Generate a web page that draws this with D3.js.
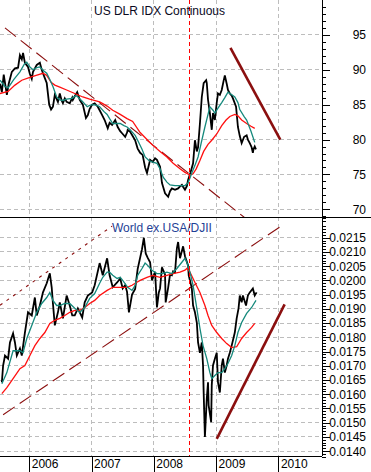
<!DOCTYPE html>
<html>
<head>
<meta charset="utf-8">
<script src="https://cdn.jsdelivr.net/npm/d3@7/dist/d3.min.js"></script>
<style>
  html, body { margin: 0; padding: 0; background: #fff; }
  svg { display: block; font-family: "Liberation Sans", Arial, sans-serif; }
</style>
</head>
<body>
<svg id="chart" width="371" height="472"></svg>
<script>
// ---------------- DATA ----------------
const yearTicks = [2006, 2007, 2008, 2009, 2010];
const topTicks = [70, 75, 80, 85, 90, 95];
const botTicks = [0.0140, 0.0145, 0.0150, 0.0155, 0.0160, 0.0165, 0.0170, 0.0175, 0.0180, 0.0185, 0.0190, 0.0195, 0.0200, 0.0205, 0.0210, 0.0215];
const topTitle = "US DLR IDX Continuous";
const botTitle = "World ex.USA/DJII";
const markerDate = 2008.57;

// US Dollar index (decimal year, value)
const usdDates = [2005.53,2005.56,2005.59,2005.64,2005.67,2005.72,2005.77,2005.82,2005.85,2005.88,2005.90,2005.93,2005.98,2006.01,2006.04,2006.06,2006.09,2006.12,2006.17,2006.20,2006.22,2006.25,2006.28,2006.32,2006.35,2006.38,2006.41,2006.44,2006.46,2006.49,2006.52,2006.54,2006.57,2006.60,2006.65,2006.69,2006.70,2006.73,2006.77,2006.80,2006.81,2006.86,2006.91,2006.94,2006.97,2007.01,2007.05,2007.10,2007.13,2007.17,2007.21,2007.26,2007.29,2007.33,2007.38,2007.42,2007.46,2007.49,2007.54,2007.57,2007.58,2007.62,2007.66,2007.70,2007.74,2007.78,2007.82,2007.86,2007.89,2007.94,2007.98,2008.02,2008.05,2008.10,2008.13,2008.15,2008.18,2008.23,2008.26,2008.29,2008.34,2008.39,2008.42,2008.45,2008.50,2008.53,2008.55,2008.59,2008.63,2008.66,2008.69,2008.71,2008.74,2008.77,2008.80,2008.84,2008.85,2008.87,2008.90,2008.93,2008.95,2008.98,2009.01,2009.03,2009.06,2009.09,2009.12,2009.14,2009.17,2009.19,2009.22,2009.25,2009.27,2009.32,2009.35,2009.38,2009.41,2009.45,2009.49,2009.51,2009.54,2009.57,2009.59,2009.60,2009.62,2009.64];
const usdClose = [88.0,86.8,89.3,86.4,88.0,89.7,90.2,90.3,92.1,91.5,92.4,91.0,90.4,89.4,88.7,89.7,90.2,90.7,91.0,90.0,89.5,88.8,88.1,85.0,84.3,84.7,86.4,85.8,85.4,86.6,85.6,85.2,85.9,85.4,85.2,86.0,85.7,86.2,86.8,86.0,85.7,85.0,83.1,83.5,84.4,85.0,85.2,84.7,84.2,83.5,82.8,81.6,82.4,82.1,82.8,81.8,81.2,80.9,80.4,81.0,81.4,81.1,80.5,79.9,78.7,78.1,77.8,76.0,75.2,77.1,76.8,77.3,77.1,76.1,73.8,73.2,72.3,71.8,72.6,73.0,72.8,73.0,73.3,73.5,72.8,73.3,74.2,75.3,76.6,79.9,78.3,78.9,82.3,86.1,88.1,88.5,88.1,85.7,83.8,81.4,83.8,82.8,85.3,86.6,86.4,87.1,88.4,89.2,88.0,87.1,86.6,86.3,85.9,84.7,81.8,80.5,79.5,80.4,80.6,80.0,79.5,78.9,78.1,78.6,79.0,78.6];

const usdFastDates = [2005.53,2005.61,2005.66,2005.75,2005.85,2005.92,2005.96,2006.01,2006.06,2006.12,2006.17,2006.24,2006.28,2006.33,2006.38,2006.44,2006.49,2006.54,2006.60,2006.69,2006.75,2006.78,2006.85,2006.93,2006.97,2007.02,2007.09,2007.13,2007.20,2007.25,2007.29,2007.34,2007.41,2007.46,2007.52,2007.57,2007.62,2007.65,2007.70,2007.74,2007.81,2007.86,2007.92,2007.97,2008.05,2008.10,2008.15,2008.21,2008.26,2008.34,2008.42,2008.50,2008.55,2008.61,2008.66,2008.71,2008.76,2008.82,2008.87,2008.90,2008.95,2008.98,2009.03,2009.09,2009.14,2009.19,2009.24,2009.30,2009.35,2009.38,2009.45,2009.49,2009.56,2009.62];
const usdFast = [88.5,87.6,87.4,88.6,89.7,90.8,91.1,90.4,90.0,90.3,90.4,89.8,89.5,88.6,87.6,86.1,85.7,85.6,85.8,85.9,86.3,86.1,85.5,84.7,84.9,85.0,84.9,84.7,84.0,83.6,83.0,82.3,82.3,82.3,82.0,81.8,81.4,81.1,80.6,79.9,78.6,77.5,77.0,76.8,76.6,75.8,74.6,73.9,73.5,73.4,73.4,73.4,73.8,75.2,76.3,77.5,79.5,81.8,83.6,84.7,84.2,83.8,84.5,85.3,86.0,86.8,86.5,86.1,85.3,84.3,83.3,82.8,81.2,79.6];

const usdSlowDates = [2005.53,2005.66,2005.77,2005.88,2006.01,2006.11,2006.22,2006.28,2006.35,2006.41,2006.49,2006.60,2006.73,2006.86,2006.97,2007.13,2007.25,2007.34,2007.46,2007.57,2007.66,2007.78,2007.89,2007.98,2008.10,2008.21,2008.31,2008.42,2008.50,2008.58,2008.63,2008.68,2008.74,2008.80,2008.87,2008.93,2009.01,2009.09,2009.16,2009.22,2009.30,2009.35,2009.41,2009.49,2009.56,2009.62];
const usdSlow = [86.6,86.9,87.8,88.5,88.9,89.2,89.5,89.2,88.2,87.8,87.5,87.1,86.6,86.1,85.8,85.4,84.8,84.2,83.6,83.0,82.6,81.0,80.0,79.2,78.3,77.5,76.6,75.8,75.3,74.9,75.1,75.8,77.0,78.3,79.3,79.9,80.8,82.0,82.8,83.3,83.6,83.4,82.8,82.3,81.9,81.6];

// World ex.USA / DJII ratio
const wDates = [2005.56,2005.58,2005.61,2005.66,2005.69,2005.74,2005.77,2005.80,2005.85,2005.88,2005.93,2005.98,2006.04,2006.09,2006.12,2006.17,2006.22,2006.28,2006.33,2006.36,2006.38,2006.41,2006.46,2006.49,2006.54,2006.60,2006.65,2006.69,2006.73,2006.78,2006.85,2006.89,2006.94,2007.01,2007.05,2007.13,2007.18,2007.25,2007.29,2007.34,2007.41,2007.46,2007.50,2007.54,2007.57,2007.60,2007.65,2007.70,2007.74,2007.81,2007.84,2007.87,2007.90,2007.94,2007.97,2008.02,2008.05,2008.08,2008.10,2008.13,2008.18,2008.19,2008.23,2008.26,2008.29,2008.31,2008.34,2008.37,2008.39,2008.42,2008.47,2008.50,2008.55,2008.56,2008.61,2008.63,2008.66,2008.69,2008.71,2008.74,2008.77,2008.79,2008.80,2008.82,2008.85,2008.87,2008.88,2008.92,2008.93,2008.95,2008.98,2009.01,2009.03,2009.06,2009.09,2009.11,2009.14,2009.17,2009.19,2009.22,2009.25,2009.30,2009.33,2009.36,2009.38,2009.41,2009.43,2009.48,2009.51,2009.54,2009.59,2009.62,2009.65];
const wClose = [0.01642,0.01701,0.01736,0.01725,0.01782,0.01814,0.01782,0.01736,0.01761,0.01736,0.01817,0.01888,0.01877,0.01940,0.01877,0.01912,0.01958,0.01990,0.02025,0.01976,0.01919,0.01842,0.01888,0.01923,0.01867,0.01947,0.01912,0.01877,0.01877,0.01902,0.01870,0.01923,0.01947,0.01958,0.01983,0.02061,0.02018,0.02078,0.02018,0.01976,0.01993,0.02007,0.01972,0.01983,0.01960,0.01888,0.01950,0.01970,0.02040,0.02110,0.02150,0.02095,0.02080,0.02064,0.02000,0.02030,0.01905,0.01958,0.01972,0.02046,0.02021,0.01923,0.01975,0.02021,0.02018,0.02032,0.02029,0.02113,0.02135,0.02078,0.02120,0.02085,0.02053,0.02018,0.01972,0.01912,0.01888,0.01852,0.01782,0.01746,0.01782,0.01701,0.01606,0.01450,0.01585,0.01642,0.01561,0.01502,0.01632,0.01701,0.01725,0.01746,0.01642,0.01606,0.01701,0.01725,0.01676,0.01701,0.01725,0.01746,0.01771,0.01817,0.01867,0.01902,0.01947,0.01923,0.01947,0.01912,0.01947,0.01958,0.01972,0.01947,0.01958];

const wFastDates = [2005.56,2005.64,2005.74,2005.85,2005.90,2005.96,2006.04,2006.12,2006.20,2006.28,2006.33,2006.38,2006.44,2006.49,2006.57,2006.65,2006.73,2006.81,2006.89,2006.97,2007.05,2007.13,2007.18,2007.25,2007.29,2007.34,2007.41,2007.46,2007.50,2007.58,2007.65,2007.70,2007.74,2007.81,2007.86,2007.90,2007.97,2008.05,2008.13,2008.21,2008.29,2008.37,2008.45,2008.50,2008.53,2008.58,2008.63,2008.69,2008.74,2008.79,2008.85,2008.90,2008.93,2008.98,2009.03,2009.09,2009.14,2009.19,2009.25,2009.30,2009.35,2009.41,2009.49,2009.57,2009.64];
const wFast = [0.01637,0.01676,0.01753,0.01753,0.01746,0.01796,0.01842,0.01888,0.01919,0.01940,0.01958,0.01930,0.01912,0.01912,0.01919,0.01919,0.01902,0.01888,0.01905,0.01937,0.01954,0.01990,0.02011,0.02029,0.02029,0.02018,0.02007,0.02011,0.02000,0.01976,0.01965,0.01983,0.02018,0.02042,0.02061,0.02053,0.02036,0.02024,0.02024,0.02029,0.02024,0.02042,0.02064,0.02078,0.02064,0.02029,0.01983,0.01902,0.01832,0.01771,0.01725,0.01676,0.01655,0.01666,0.01676,0.01676,0.01690,0.01708,0.01736,0.01771,0.01817,0.01852,0.01884,0.01905,0.01930];

const wSlowDates = [2005.56,2005.64,2005.74,2005.85,2005.93,2006.01,2006.09,2006.17,2006.25,2006.33,2006.41,2006.49,2006.57,2006.65,2006.73,2006.81,2006.89,2006.97,2007.05,2007.13,2007.25,2007.34,2007.46,2007.57,2007.65,2007.70,2007.78,2007.89,2007.98,2008.10,2008.21,2008.31,2008.42,2008.50,2008.53,2008.58,2008.66,2008.74,2008.82,2008.87,2008.93,2009.01,2009.09,2009.17,2009.25,2009.33,2009.41,2009.49,2009.57,2009.62];
const wSlow = [0.01602,0.01623,0.01655,0.01690,0.01701,0.01736,0.01771,0.01796,0.01817,0.01849,0.01860,0.01867,0.01877,0.01888,0.01895,0.01895,0.01905,0.01919,0.01930,0.01947,0.01965,0.01976,0.01976,0.01976,0.01983,0.01990,0.02000,0.02011,0.02018,0.02011,0.02018,0.02024,0.02029,0.02036,0.02042,0.02029,0.01993,0.01958,0.01912,0.01877,0.01842,0.01817,0.01796,0.01778,0.01764,0.01767,0.01796,0.01817,0.01835,0.01849];

// Drawn trend annotations: [date, value] end points
const usdDownDashed = [[2005.61, 96.0], [2009.46, 68.8]];
const usdDownSolid = [[2009.23, 93.15], [2010.03, 80.0]];
const wUpperDotted = [[2005.53, 0.01913], [2007.33, 0.02191]];
const wLowerDashed = [[2005.58, 0.01528], [2010.09, 0.02198]];
const wUpSolid = [[2009.01, 0.01443], [2010.10, 0.01916]];

// ---------------- LAYOUT ----------------
const W = 371, H = 472;
const plotR = 322;
const topY0 = 0, topY1 = 217, botY0 = 217, botY1 = 456;

const COL_BLACK = "#000000";
const COL_FAST = "#15897c";
const COL_SLOW = "#ff1010";
const COL_TREND = "#8b0f0f";
const COL_GRID = "#bdbdbd";

const svg = d3.select("#chart");
svg.append("rect").attr("width", W).attr("height", H).attr("fill", "#fff");

const x = d3.scaleLinear().domain([2005.53, 2010.70]).range([0, plotR]);
const yTop = d3.scaleLinear().domain([68.9, 100]).range([topY1, topY0]);
const yBot = d3.scaleLinear().domain([0.01383, 0.02223]).range([botY1, botY0]);

const defs = svg.append("defs");
defs.append("clipPath").attr("id", "clipTop").append("rect")
  .attr("x", 0).attr("y", topY0).attr("width", plotR).attr("height", topY1 - topY0);
defs.append("clipPath").attr("id", "clipBot").append("rect")
  .attr("x", 0).attr("y", botY0).attr("width", plotR).attr("height", botY1 - botY0);

// ---------------- GRID ----------------
const grid = svg.append("g");
yearTicks.forEach(yr => {
  grid.append("line").attr("x1", x(yr)).attr("x2", x(yr)).attr("y1", 0).attr("y2", botY1)
    .attr("stroke", COL_GRID).attr("stroke-width", 1).attr("stroke-dasharray", "4,3")
    .attr("shape-rendering", "crispEdges");
});
topTicks.forEach(v => {
  grid.append("line").attr("x1", 0).attr("x2", plotR).attr("y1", yTop(v)).attr("y2", yTop(v))
    .attr("stroke", COL_GRID).attr("stroke-dasharray", "4,3").attr("shape-rendering", "crispEdges");
});
botTicks.forEach(v => {
  grid.append("line").attr("x1", 0).attr("x2", plotR).attr("y1", yBot(v)).attr("y2", yBot(v))
    .attr("stroke", COL_GRID).attr("stroke-dasharray", "4,3").attr("shape-rendering", "crispEdges");
});

// ---------------- TOP PANEL ----------------
const zip = (a, b) => a.map((d, i) => [d, b[i]]);
const lineTop = d3.line().x(d => x(d[0])).y(d => yTop(d[1]));
const lineBot = d3.line().x(d => x(d[0])).y(d => yBot(d[1]));

const gTop = svg.append("g").attr("clip-path", "url(#clipTop)");
gTop.append("path").attr("d", lineTop(usdDownDashed)).attr("stroke", COL_TREND)
  .attr("stroke-width", 1.1).attr("stroke-dasharray", "14,6").attr("fill", "none");
gTop.append("path").attr("d", lineTop(zip(usdDates, usdClose))).attr("stroke", COL_BLACK)
  .attr("stroke-width", 1.8).attr("fill", "none").attr("stroke-linejoin", "miter");
gTop.append("path").attr("d", lineTop(zip(usdSlowDates, usdSlow))).attr("stroke", COL_SLOW)
  .attr("stroke-width", 1.3).attr("fill", "none");
gTop.append("path").attr("d", lineTop(zip(usdFastDates, usdFast))).attr("stroke", COL_FAST)
  .attr("stroke-width", 1.3).attr("fill", "none");
gTop.append("path").attr("d", lineTop(usdDownSolid)).attr("stroke", COL_TREND)
  .attr("stroke-width", 2.6).attr("fill", "none");

// ---------------- BOTTOM PANEL ----------------
const gBot = svg.append("g").attr("clip-path", "url(#clipBot)");
gBot.append("path").attr("d", lineBot(wUpperDotted)).attr("stroke", COL_TREND)
  .attr("stroke-width", 1.1).attr("stroke-dasharray", "3,5").attr("fill", "none");
gBot.append("path").attr("d", lineBot(wLowerDashed)).attr("stroke", COL_TREND)
  .attr("stroke-width", 1.1).attr("stroke-dasharray", "14,6").attr("fill", "none");
gBot.append("path").attr("d", lineBot(zip(wDates, wClose))).attr("stroke", COL_BLACK)
  .attr("stroke-width", 1.8).attr("fill", "none");
gBot.append("path").attr("d", lineBot(zip(wSlowDates, wSlow))).attr("stroke", COL_SLOW)
  .attr("stroke-width", 1.3).attr("fill", "none");
gBot.append("path").attr("d", lineBot(zip(wFastDates, wFast))).attr("stroke", COL_FAST)
  .attr("stroke-width", 1.3).attr("fill", "none");
gBot.append("path").attr("d", lineBot(wUpSolid)).attr("stroke", COL_TREND)
  .attr("stroke-width", 2.6).attr("fill", "none");

// marker vertical line
svg.append("line").attr("x1", Math.round(x(markerDate)) + 0.5).attr("x2", Math.round(x(markerDate)) + 0.5)
  .attr("y1", 0).attr("y2", botY1)
  .attr("stroke", "#ff0000").attr("stroke-width", 1).attr("stroke-dasharray", "4,3");

// ---------------- TITLES ----------------
svg.append("text").attr("x", 94).attr("y", 15).attr("font-size", 12).attr("fill", "#0a0a1e")
  .attr("textLength", 131).text(topTitle);
svg.append("text").attr("x", 112).attr("y", 232).attr("font-size", 12).attr("fill", "#1f3f96")
  .text(botTitle);

// ---------------- AXES ----------------
const topMinor = d3.range(69, 101, 1).filter(v => v % 5 !== 0);
const botMinor = d3.range(138, 223, 1).filter(v => v % 5 !== 0).map(v => v / 10000);

function styleAxis(g) {
  g.select(".domain").remove();
  g.selectAll("line").attr("stroke", "#000").attr("shape-rendering", "crispEdges");
  g.selectAll("text").attr("font-size", 12).attr("fill", "#000")
    .attr("font-family", "Liberation Sans, Arial, sans-serif");
}

const axTopMinor = svg.append("g").attr("transform", `translate(${plotR},0)`)
  .call(d3.axisRight(yTop).tickValues(topMinor).tickSize(4).tickFormat(""));
styleAxis(axTopMinor);
const axTop = svg.append("g").attr("transform", `translate(${plotR},0)`)
  .call(d3.axisRight(yTop).tickValues(topTicks).tickSize(8).tickFormat(d3.format("d")));
styleAxis(axTop);
axTop.selectAll("text").attr("text-anchor", "end").attr("x", 44);

const axBotMinor = svg.append("g").attr("transform", `translate(${plotR},0)`)
  .call(d3.axisRight(yBot).tickValues(botMinor).tickSize(4).tickFormat(""));
styleAxis(axBotMinor);
const axBot = svg.append("g").attr("transform", `translate(${plotR},0)`)
  .call(d3.axisRight(yBot).tickValues(botTicks).tickSize(8).tickFormat(d3.format(".4f")));
styleAxis(axBot);
axBot.selectAll("text").attr("text-anchor", "end").attr("x", 44);

const axX = svg.append("g").attr("transform", `translate(0,${botY1})`)
  .call(d3.axisBottom(x).tickValues(yearTicks).tickSize(16).tickFormat(d3.format("d")));
styleAxis(axX);
axX.selectAll("text").attr("text-anchor", "start").attr("x", 2).attr("y", 12).attr("dy", null);

// frame lines
svg.append("line").attr("x1", plotR + 0.5).attr("x2", plotR + 0.5).attr("y1", 0).attr("y2", botY1)
  .attr("stroke", "#000");
svg.append("line").attr("x1", 0).attr("x2", W).attr("y1", topY1 + 0.5).attr("y2", topY1 + 0.5)
  .attr("stroke", "#000");
svg.append("line").attr("x1", 0).attr("x2", plotR).attr("y1", botY1 + 0.5).attr("y2", botY1 + 0.5)
  .attr("stroke", "#000");
</script>
</body>
</html>
